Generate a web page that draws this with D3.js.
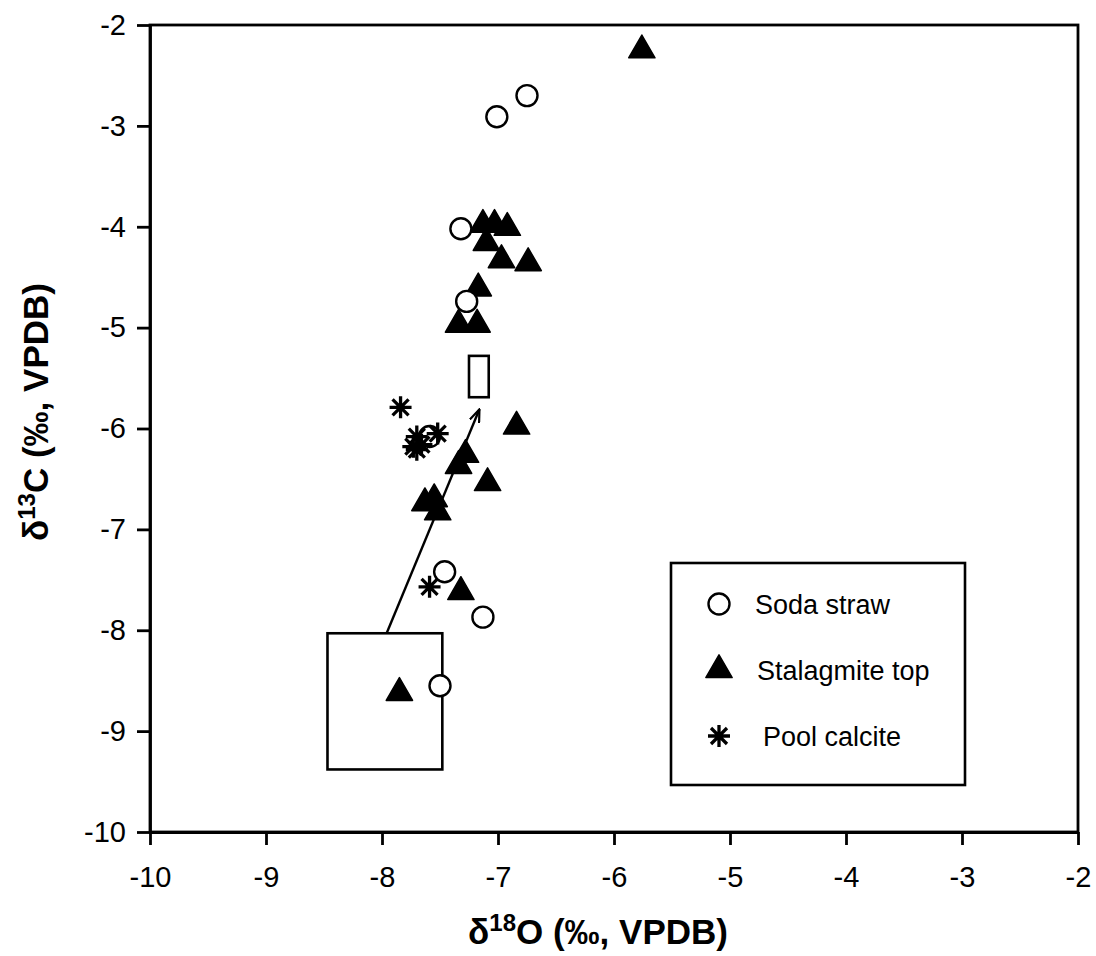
<!DOCTYPE html>
<html>
<head>
<meta charset="utf-8">
<script src="https://cdn.jsdelivr.net/npm/d3@7"></script>
<style>
  body { margin: 0; background: #fff; }
  svg text { font-family: "Liberation Sans", Arial, sans-serif; fill: #000; }
</style>
</head>
<body>
<svg id="chart" width="1096" height="956"></svg>
<script>
// d18O, d13C pairs
const sodaStraw = [
    [-6.75, -2.70], [-7.01, -2.91], [-7.32, -4.02], [-7.27, -4.74],
    [-7.59, -6.08], [-7.46, -7.42], [-7.13, -7.87], [-7.50, -8.55]
];
const stalagmiteTop = [
    [-5.76, -2.25], [-7.13, -3.98], [-7.03, -3.98], [-6.92, -4.01],
    [-7.10, -4.16], [-6.97, -4.33], [-6.74, -4.36], [-7.17, -4.61],
    [-7.34, -4.97], [-7.18, -4.97], [-6.84, -5.98], [-7.28, -6.26],
    [-7.34, -6.37], [-7.09, -6.54], [-7.63, -6.74], [-7.55, -6.70],
    [-7.52, -6.83], [-7.32, -7.62], [-7.85, -8.62]
];
const poolCalcite = [
    [-7.84, -5.79], [-7.70, -6.08], [-7.52, -6.05], [-7.73, -6.18],
    [-7.66, -6.16], [-7.70, -6.21], [-7.59, -7.57]
];
const xTicks = [-10, -9, -8, -7, -6, -5, -4, -3, -2];
const yTicks = [-10, -9, -8, -7, -6, -5, -4, -3, -2];
// annotation boxes [x0, y0, x1, y1] and arrow [from, to], in data units
const boxes = [[-8.47, -8.03, -7.48, -9.38], [-7.25, -5.28, -7.08, -5.69]];
const arrow = [[-7.96, -8.03], [-7.16, -5.81]];
const legendItems = ["Soda straw", "Stalagmite top", "Pool calcite"];

let svg = d3.select("#chart");
let mLeft = 150, mRight = 1078, mTop = 25, mBottom = 832;

let x = d3.scaleLinear().domain([-10, -2]).range([mLeft, mRight]);
let y = d3.scaleLinear().domain([-10, -2]).range([mBottom, mTop]);

// frame
svg.append("rect")
    .attr("x", mLeft).attr("y", mTop)
    .attr("width", mRight - mLeft).attr("height", mBottom - mTop)
    .attr("fill", "none").attr("stroke", "#000").attr("stroke-width", 2.8);

let xAxis = svg.append("g")
    .attr("transform", "translate(0," + mBottom + ")")
    .call(d3.axisBottom(x).tickValues(xTicks).tickSize(13).tickSizeOuter(0).tickPadding(21));
let yAxis = svg.append("g")
    .attr("transform", "translate(" + mLeft + ",0)")
    .call(d3.axisLeft(y).tickValues(yTicks).tickSize(13).tickSizeOuter(0).tickPadding(11));
[xAxis, yAxis].forEach(function (g) {
    g.selectAll("path, line").attr("stroke", "#000").attr("stroke-width", 2.8);
    g.selectAll("text").style("font-size", "29px").attr("fill", "#000")
        .text(function (d) { return String(d).replace("\u2212", "-"); });
});

// axis titles
let xt = svg.append("text")
    .attr("x", 598).attr("y", 944)
    .attr("text-anchor", "middle")
    .style("font-size", "35px").style("font-weight", "bold");
xt.append("tspan").text("\u03b4");
xt.append("tspan").attr("baseline-shift", "super").style("font-size", "24px").text("18");
xt.append("tspan").text("O (\u2030, VPDB)");

let yt = svg.append("text")
    .attr("transform", "translate(48,412) rotate(-90)")
    .attr("text-anchor", "middle")
    .style("font-size", "35px").style("font-weight", "bold");
yt.append("tspan").text("\u03b4");
yt.append("tspan").attr("baseline-shift", "super").style("font-size", "24px").text("13");
yt.append("tspan").text("C (\u2030, VPDB)");

// annotation boxes and arrow
svg.selectAll("rect.note")
    .data(boxes)
    .join("rect")
    .attr("class", "note")
    .attr("x", function (d) { return x(d[0]); })
    .attr("y", function (d) { return y(d[1]); })
    .attr("width", function (d) { return x(d[2]) - x(d[0]); })
    .attr("height", function (d) { return y(d[3]) - y(d[1]); })
    .attr("fill", "none").attr("stroke", "#000").attr("stroke-width", 2.6);

svg.append("defs").append("marker")
    .attr("id", "head")
    .attr("viewBox", "0 -6 14 12")
    .attr("refX", 13).attr("refY", 0)
    .attr("markerWidth", 14).attr("markerHeight", 12)
    .attr("markerUnits", "userSpaceOnUse")
    .attr("orient", "auto")
    .append("path")
    .attr("d", "M0,-5L13,0L0,5")
    .attr("fill", "none").attr("stroke", "#000").attr("stroke-width", 2.2);

svg.append("line")
    .attr("x1", x(arrow[0][0])).attr("y1", y(arrow[0][1]))
    .attr("x2", x(arrow[1][0])).attr("y2", y(arrow[1][1]))
    .attr("stroke", "#000").attr("stroke-width", 2.4)
    .attr("marker-end", "url(#head)");

// symbols
let tri = d3.symbol().type(d3.symbolTriangle).size(300);
let ast = "M0,-11V11M-11,0H11M-8,-8L8,8M-8,8L8,-8";

function drawCircle(g) {
    g.append("circle").attr("r", 10.5)
        .attr("fill", "#fff").attr("stroke", "#000").attr("stroke-width", 2.4);
}
function drawTriangle(g) {
    g.append("path").attr("d", tri())
        .attr("fill", "#000").attr("stroke", "#000")
        .attr("stroke-width", 1.5).attr("stroke-linejoin", "round");
}
function drawAsterisk(g) {
    g.append("path").attr("d", ast)
        .attr("fill", "none").attr("stroke", "#000").attr("stroke-width", 3.3);
}

function plot(data, draw) {
    svg.append("g").selectAll("g")
        .data(data)
        .join("g")
        .attr("transform", function (d) { return "translate(" + x(d[0]) + "," + y(d[1]) + ")"; })
        .each(function () { draw(d3.select(this)); });
}
plot(stalagmiteTop, drawTriangle);
plot(sodaStraw, drawCircle);
plot(poolCalcite, drawAsterisk);

// legend
let lg = svg.append("g");
lg.append("rect")
    .attr("x", 671).attr("y", 563).attr("width", 294).attr("height", 222)
    .attr("fill", "#fff").attr("stroke", "#000").attr("stroke-width", 2.6);
let draws = [drawCircle, drawTriangle, drawAsterisk];
let textX = [755, 757, 763];
legendItems.forEach(function (name, i) {
    let cy = 604 + i * 66;
    let g = lg.append("g").attr("transform", "translate(719," + cy + ")");
    draws[i](g);
    lg.append("text")
        .attr("x", textX[i]).attr("y", cy + 10)
        .style("font-size", "27px")
        .text(name);
});
</script>
</body>
</html>
